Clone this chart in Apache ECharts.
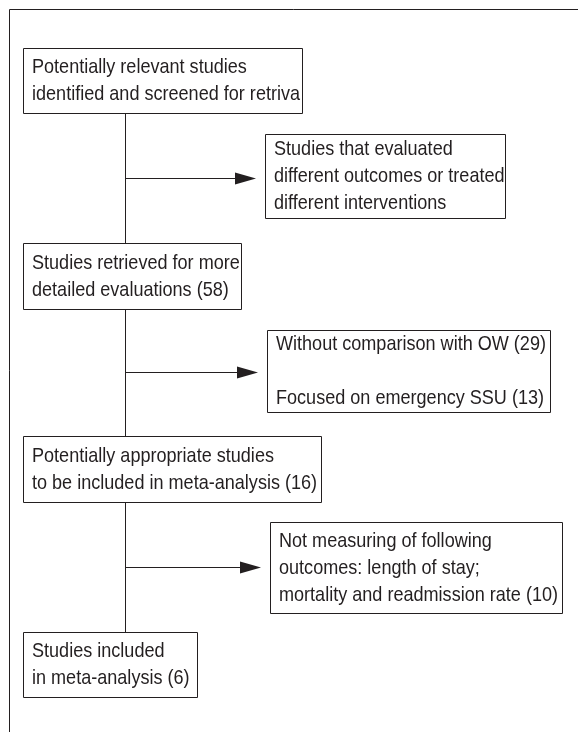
<!DOCTYPE html>
<html><head><meta charset="utf-8">
<script src="https://cdn.jsdelivr.net/npm/echarts@6/dist/echarts.min.js"></script>
<style>html,body{margin:0;padding:0;background:#fff}#c{width:578px;height:732px}</style>
</head><body><div id="c"></div>
<script>
// ---- content (flow stages) ----
const mainSteps = [
  "Potentially relevant studies\nidentified and screened for retriva",
  "Studies retrieved for more\ndetailed evaluations (58)",
  "Potentially appropriate studies\nto be included in meta-analysis (16)",
  "Studies included\nin meta-analysis (6)"
];
const exclusions = [
  "Studies that evaluated\ndifferent outcomes or treated\ndifferent interventions",
  "Without comparison with OW (29)\n\nFocused on emergency SSU (13)",
  "Not measuring of following\noutcomes: length of stay;\nmortality and readmission rate (10)"
];

// ---- layout (canvas units on hidden axes) ----
const mainBoxes = [[23,48,302,113],[23,243,241,309],[23,436,321,502],[23,632,197,697]];
const exclBoxes = [[265,134,505,218],[267,330,550,412],[270,522,562,613]];
const arrowYs = [178,372,567];
const spineX = 125;
const INK = '#231f20';
const FONT = '"Liberation Sans", Arial, sans-serif';
const NARROW = 0.86;

function boxRenderer(boxes, texts) {
  return function (params, api) {
    const i = api.value(0);
    const b = boxes[i];
    const p0 = api.coord([b[0], b[1]]);
    const p1 = api.coord([b[2], b[3]]);
    const x0 = Math.round(p0[0]) + 0.5, y0 = Math.round(p0[1]) + 0.5;
    const x1 = Math.round(p1[0]) + 0.5, y1 = Math.round(p1[1]) + 0.5;
    return {
      type: 'group',
      children: [
        { type: 'rect', shape: { x: x0, y: y0, width: x1 - x0, height: y1 - y0 },
          style: { fill: '#fff', stroke: INK, lineWidth: 1 } },
        { type: 'text', x: x0 + 8.5, y: (y0 + y1) / 2, scaleX: NARROW,
          style: { text: texts[i], fontFamily: FONT, fontSize: 21, fill: INK,
                   align: 'left', verticalAlign: 'middle', lineHeight: 27 } }
      ]
    };
  };
}

function connectorRenderer(params, api) {
  const i = api.value(0);
  const children = [];
  const a = api.coord([spineX, mainBoxes[i][3]]);
  const b = api.coord([spineX, mainBoxes[i + 1][1]]);
  const sx = Math.round(a[0]) + 0.5;
  children.push({ type: 'line', shape: { x1: sx, y1: a[1], x2: sx, y2: b[1] },
    style: { stroke: INK, lineWidth: 1 } });
  const ay = api.coord([0, arrowYs[i]])[1];
  const yy = Math.round(ay) + 0.5;
  const tip = api.coord([exclBoxes[i][0] - 9, arrowYs[i]])[0];
  children.push({ type: 'line', shape: { x1: sx, y1: yy, x2: tip - 16, y2: yy },
    style: { stroke: INK, lineWidth: 1 } });
  children.push({ type: 'polygon', shape: { points: [[tip - 21, yy - 6], [tip, yy], [tip - 21, yy + 6]] },
    style: { fill: INK } });
  return { type: 'group', children: children };
}

function frameRenderer(params, api) {
  const tl = api.coord([9, 9]);
  const tr = api.coord([578, 9]);
  const bl = api.coord([9, 732]);
  const x = Math.round(tl[0]) + 0.5, y = Math.round(tl[1]) + 0.5;
  return { type: 'group', children: [
    { type: 'line', shape: { x1: x, y1: y, x2: tr[0], y2: y }, style: { stroke: INK, lineWidth: 1 } },
    { type: 'line', shape: { x1: x, y1: y, x2: x, y2: bl[1] }, style: { stroke: INK, lineWidth: 1 } }
  ]};
}

const chart = echarts.init(document.getElementById('c'), null, { renderer: 'canvas' });
chart.setOption({
  animation: false,
  backgroundColor: '#fff',
  grid: { left: 0, right: 0, top: 0, bottom: 0 },
  xAxis: { type: 'value', min: 0, max: 578, show: false },
  yAxis: { type: 'value', min: 0, max: 732, inverse: true, show: false },
  series: [
    { type: 'custom', renderItem: frameRenderer, data: [[0]], silent: true, z: 1 },
    { type: 'custom', renderItem: connectorRenderer, data: mainSteps.slice(0, -1).map((_, i) => [i]), silent: true, z: 2 },
    { type: 'custom', renderItem: boxRenderer(mainBoxes, mainSteps), data: mainSteps.map((_, i) => [i]), silent: true, z: 3 },
    { type: 'custom', renderItem: boxRenderer(exclBoxes, exclusions), data: exclusions.map((_, i) => [i]), silent: true, z: 3 }
  ]
});
</script></body></html>
